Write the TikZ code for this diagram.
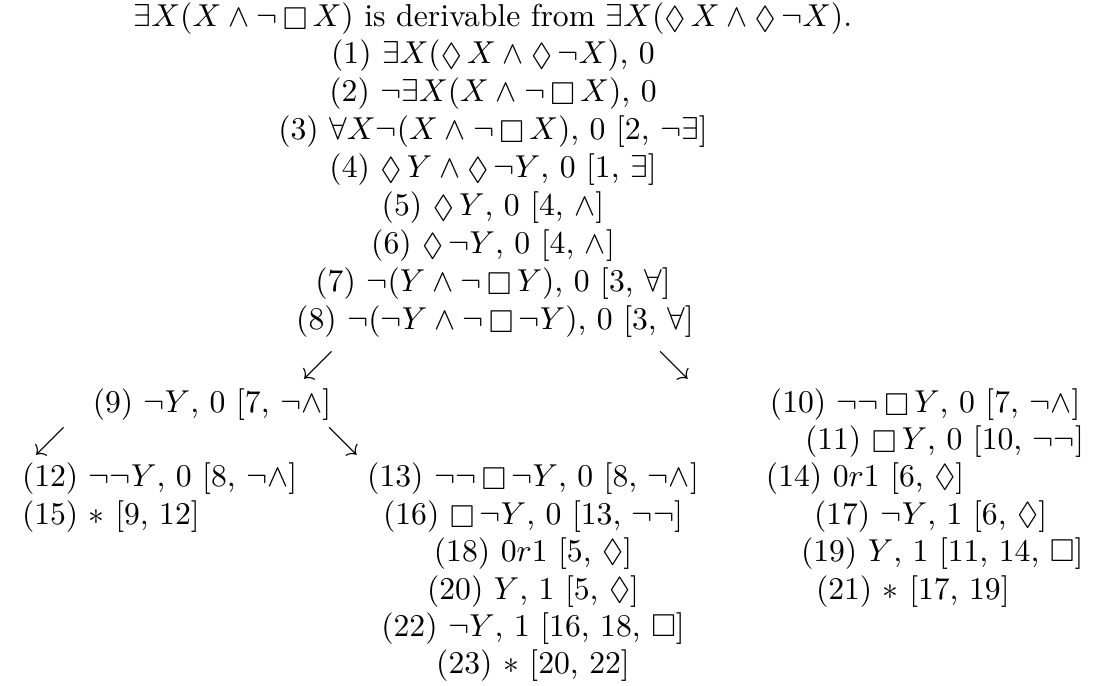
\documentclass[tikz,border=0pt]{standalone}
\usepackage{amssymb}
\newcommand{\bx}{\mathop{\Box}}
\newcommand{\dm}{\mathop{\Diamond}}
\begin{document}
\begin{tikzpicture}[x=0.3157pt,y=-0.3157pt,
  tx/.style={inner sep=0pt, outer sep=0pt, text height=7.5pt, text depth=2.5pt, font=\fontsize{10}{12}\selectfont},
  txw/.style={tx, anchor=west},
  arr/.style={tx}]
\useasboundingbox (0,0) rectangle (1093,686);
\node[tx] (t) at (493,19) {$\exists X(X\wedge\neg\bx X)$ is derivable from $\exists X(\dm X\wedge\dm\neg X)$.};
\node[tx] (n1) at (493,56) {(1) $\exists X(\dm X\wedge\dm\neg X)$, 0};
\node[tx] (n2) at (493,94) {(2) $\neg\exists X(X\wedge\neg\bx X)$, 0};
\node[tx] (n3) at (493,132) {(3) $\forall X\neg(X\wedge\neg\bx X)$, 0 [2, $\neg\exists$]};
\node[tx] (n4) at (493,170) {(4) $\dm Y\wedge\dm\neg Y$, 0 [1, $\exists$]};
\node[tx] (n5) at (493,208) {(5) $\dm Y$, 0 [4, $\wedge$]};
\node[tx] (n6) at (493,246) {(6) $\dm\neg Y$, 0 [4, $\wedge$]};
\node[tx] (n7) at (493,284) {(7) $\neg(Y\wedge\neg\bx Y)$, 0 [3, $\forall$]};
\node[tx] (n8) at (495,322) {(8) $\neg(\neg Y\wedge\neg\bx\neg Y)$, 0 [3, $\forall$]};
\node[arr] (a8l) at (318,366) {$\swarrow$};
\node[arr] (a8r) at (674,366) {$\searrow$};
\node[tx] (n9) at (212,405) {(9) $\neg Y$, 0 [7, $\neg\wedge$]};
\node[txw] (n10) at (770,405) {(10) $\neg\neg\bx Y$, 0 [7, $\neg\wedge$]};
\node[arr] (a9l) at (50,442) {$\swarrow$};
\node[arr] (a9r) at (343,442) {$\searrow$};
\node[txw] (n11) at (805,442) {(11) $\bx Y$, 0 [10, $\neg\neg$]};
\node[txw] (n12) at (22,479) {(12) $\neg\neg Y$, 0 [8, $\neg\wedge$]};
\node[tx] (n13) at (533,479) {(13) $\neg\neg\bx\neg Y$, 0 [8, $\neg\wedge$]};
\node[txw] (n14) at (766,479) {(14) $0r1$ [6, $\Diamond$]};
\node[txw] (n15) at (22,517) {(15) $*$ [9, 12]};
\node[tx] (n16) at (533,517) {(16) $\bx\neg Y$, 0 [13, $\neg\neg$]};
\node[txw] (n17) at (814,517) {(17) $\neg Y$, 1 [6, $\Diamond$]};
\node[tx] (n18) at (533,554) {(18) $0r1$ [5, $\Diamond$]};
\node[txw] (n19) at (801,554) {(19) $Y$, 1 [11, 14, $\Box$]};
\node[tx] (n20) at (533,592) {(20) $Y$, 1 [5, $\Diamond$]};
\node[txw] (n21) at (816,592) {(21) $*$ [17, 19]};
\node[tx] (n22) at (533,629) {(22) $\neg Y$, 1 [16, 18, $\Box$]};
\node[tx] (n23) at (533,666) {(23) $*$ [20, 22]};
\end{tikzpicture}
\end{document}
